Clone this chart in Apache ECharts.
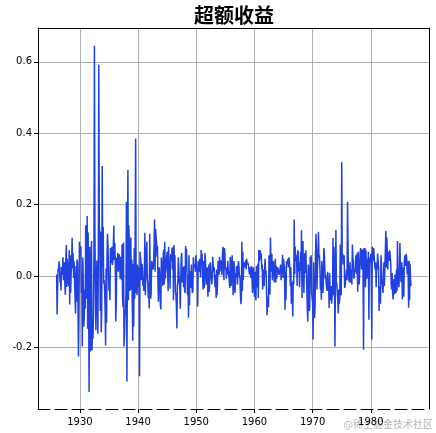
<!DOCTYPE html>
<html>
<head>
<meta charset="utf-8">
<script src="https://cdn.jsdelivr.net/npm/echarts@6/dist/echarts.min.js"></script>
<style>html,body{margin:0;padding:0;background:#fff}#c{width:436px;height:433px}</style>
</head>
<body>
<div id="c"></div>
<script>
const chartTitle = '超额收益';
const watermark = '@稀土掘金技术社区';
const startYear = 1926;
const xRange = [1922.8, 1990];
const yRange = [-0.373, 0.695];
const xTickYears = [1930, 1940, 1950, 1960, 1970, 1980];
const yTickValues = [-0.2, 0.0, 0.2, 0.4, 0.6];
// monthly excess returns, Jan 1926 .. Dec 1986 (one row per year)
const excessReturns = [
0.004,-0.108,-0.032,0.021,0.012,0.041,0.028,-0.018,0.006,-0.041,0.025,0.013,
0.003,0.052,-0.012,0.021,0.038,-0.024,-0.053,0.044,0.087,-0.031,0.048,0.019,
-0.015,-0.028,0.072,-0.08,0.058,-0.047,0.012,0.039,0.107,0.021,0.064,-0.006,
0.041,-0.012,-0.058,-0.105,0.028,-0.072,0.046,0.038,-0.064,-0.226,-0.128,0.096,
0.072,0.061,0.083,-0.048,-0.034,-0.198,0.052,-0.018,-0.142,-0.115,-0.038,-0.092,
0.142,0.118,-0.064,0.168,-0.148,0.122,-0.071,-0.325,0.082,-0.108,-0.212,0.054,
0.098,-0.208,-0.135,-0.176,-0.112,0.065,0.645,0.128,-0.046,-0.152,-0.078,0.043,
0.012,-0.162,0.034,0.592,0.142,0.118,-0.098,0.124,-0.158,-0.094,0.308,0.026,
0.138,-0.021,-0.012,-0.038,-0.094,-0.195,0.021,-0.131,0.062,0.118,0.084,0.012,
-0.042,-0.028,-0.068,0.078,0.036,0.064,0.082,0.031,0.042,0.087,0.141,0.045,
0.092,0.038,-0.128,-0.076,0.052,0.018,0.064,0.012,0.024,0.061,0.048,-0.008,
0.054,0.046,-0.012,0.089,-0.062,-0.088,0.094,-0.198,-0.168,-0.112,-0.094,-0.052,
0.208,-0.296,0.052,0.297,-0.068,0.142,0.084,-0.042,0.018,0.108,-0.038,0.046,
-0.068,-0.182,0.034,-0.142,0.078,-0.064,0.112,0.385,-0.048,-0.012,-0.054,0.032,
-0.032,0.018,0.024,-0.281,0.068,0.052,0.038,-0.012,0.034,0.021,-0.028,-0.018,
-0.042,0.012,0.121,-0.054,0.018,0.062,0.096,-0.008,-0.018,-0.062,-0.048,-0.091,
0.118,-0.028,-0.064,-0.048,0.042,0.038,0.046,0.018,0.034,0.082,0.158,0.012,
0.132,0.112,0.098,0.054,0.084,-0.018,-0.072,0.012,0.024,-0.012,-0.082,-0.094,
0.052,0.018,0.042,-0.028,0.061,0.074,-0.024,0.096,-0.008,0.012,0.024,0.058,
0.068,0.071,-0.042,0.082,0.024,0.038,-0.036,0.054,0.061,0.042,0.078,0.018,
0.081,-0.068,0.087,0.042,0.058,-0.044,-0.052,-0.082,-0.147,-0.028,-0.018,0.052,
0.024,-0.012,-0.034,-0.092,-0.018,0.052,0.064,-0.018,0.008,0.024,-0.032,0.028,
-0.042,-0.048,0.084,0.038,0.076,0.004,-0.054,0.002,-0.117,0.058,-0.082,0.014,
0.018,-0.034,0.032,-0.024,-0.048,-0.042,0.052,0.024,0.028,0.034,0.012,0.058,
0.038,0.018,0.008,-0.086,0.042,0.024,0.012,0.048,0.052,-0.004,0.073,0.054,
0.062,0.014,-0.038,0.042,-0.034,-0.026,0.064,0.044,0.002,-0.024,0.008,0.024,
-0.058,-0.028,0.032,-0.044,0.022,0.038,0.012,-0.008,-0.024,-0.004,0.054,0.028,
0.012,0.024,-0.018,-0.032,0.004,-0.062,0.018,-0.054,-0.008,0.042,0.018,0.002,
0.054,0.012,0.032,0.044,0.038,0.002,0.058,0.082,0.048,-0.012,0.078,0.064,
0.018,0.024,-0.008,0.022,0.004,0.042,0.018,0.002,-0.012,-0.034,0.054,0.014,
-0.028,0.034,0.058,0.004,-0.054,0.028,0.042,-0.032,-0.048,0.008,-0.004,0.028,
0.012,-0.024,0.018,0.042,0.028,-0.004,0.002,-0.048,-0.079,-0.064,0.096,-0.042,
0.068,-0.012,0.038,0.032,0.024,0.028,0.044,0.018,0.048,0.032,0.038,0.042,
0.028,0.012,0.004,0.024,0.008,-0.006,0.028,-0.012,-0.048,0.018,0.024,0.022,
-0.058,0.012,-0.024,-0.069,0.028,0.024,-0.032,0.034,-0.062,0.073,0.042,0.048,
0.072,0.054,0.062,0.018,0.032,-0.038,0.018,0.014,-0.028,0.024,0.048,0.004,
0.014,0.018,-0.11,-0.072,-0.058,-0.088,0.058,0.022,-0.052,0.108,0.048,0.012,
0.062,-0.012,0.028,0.042,0.024,-0.018,-0.004,0.048,-0.018,0.028,-0.008,0.012,
0.024,0.028,0.022,0.002,0.012,0.008,0.032,-0.012,0.028,0.014,0.059,-0.006,
0.048,0.032,0.024,-0.095,0.012,-0.068,0.042,0.038,0.034,0.048,0.024,0.052,
0.042,0.018,-0.028,0.024,-0.078,-0.018,-0.024,-0.114,-0.012,-0.024,0.158,0.004,
0.082,0.042,0.058,0.048,-0.028,0.064,0.072,0.012,0.038,-0.032,0.018,0.068,
0.014,0.128,-0.062,0.042,0.098,0.024,-0.048,0.038,0.064,0.008,0.072,0.018,
-0.032,-0.094,-0.128,0.032,0.018,-0.098,-0.088,0.054,-0.012,0.058,-0.048,-0.064,
-0.072,-0.178,0.038,-0.058,-0.118,-0.084,0.062,0.118,0.048,-0.038,0.024,0.068,
0.124,0.052,0.058,0.024,-0.038,-0.024,-0.067,0.042,-0.018,-0.048,-0.032,0.078,
0.068,0.028,-0.008,0.004,-0.024,-0.034,-0.042,0.012,-0.028,-0.018,-0.09,0.008,
-0.042,-0.068,-0.028,-0.078,-0.062,-0.048,0.106,-0.054,0.082,0.012,-0.198,-0.018,
0.129,-0.018,-0.024,-0.048,-0.072,-0.105,-0.038,-0.078,-0.062,0.088,-0.038,-0.054,
0.319,0.048,0.062,0.032,0.052,0.058,-0.034,-0.028,-0.024,0.004,0.018,-0.012,
0.208,0.082,0.008,-0.012,-0.018,0.038,0.004,-0.018,0.018,-0.024,0.088,0.052,
0.042,-0.008,-0.004,0.018,0.012,0.058,0.014,0.004,0.064,-0.044,0.068,0.018,
-0.024,0.012,0.064,0.078,0.058,0.018,0.068,0.074,0.008,-0.207,0.078,0.022,
0.078,-0.032,0.072,0.024,-0.008,0.048,0.018,0.068,-0.123,0.052,0.048,0.038,
0.062,-0.018,-0.178,0.082,0.068,0.042,0.078,0.052,0.032,0.018,0.038,-0.032,
0.032,0.018,0.062,0.042,0.024,-0.098,-0.028,-0.062,-0.078,0.058,0.032,-0.018,
-0.024,-0.048,-0.018,0.038,-0.028,-0.032,-0.024,0.126,0.024,0.108,0.068,0.018,
0.068,0.062,0.042,0.072,0.068,0.038,-0.024,-0.038,0.008,-0.048,-0.066,-0.018,
-0.008,-0.052,0.004,-0.018,-0.048,0.018,-0.042,0.098,0.004,-0.018,-0.032,0.012,
0.092,0.028,-0.012,-0.018,0.038,-0.066,0.024,-0.012,-0.058,0.038,0.058,0.056,
0.028,0.062,0.048,0.004,0.042,0.008,-0.089,0.042,-0.068,0.034,-0.012,-0.028
];

const seriesData = excessReturns.map((v, i) => [startYear + i / 12, v]);

const chart = echarts.init(document.getElementById('c'), null, {renderer: 'canvas'});
const labelFont = 'DejaVu Sans';
const gridColor = '#b0b0b0';
chart.setOption({
  animation: false,
  backgroundColor: '#fff',
  title: {
    text: chartTitle, left: 194, top: 5, padding: 0,
    textStyle: {fontFamily: 'Noto Sans CJK SC', fontWeight: 'bold', fontSize: 20, color: '#000'}
  },
  graphic: [{
    type: 'text', right: 3, bottom: 4,
    style: {text: watermark, fontSize: 10, fill: '#b4b4b4', fontFamily: 'Noto Sans CJK SC'}
  }],
  grid: {left: 38, right: 7, top: 28, bottom: 24, containLabel: false},
  xAxis: [{
    type: 'value', min: xRange[0], max: xRange[1], position: 'bottom',
    axisLine: {show: true, onZero: false, lineStyle: {color: '#000', width: 1, type: [12, 5]}},
    axisTick: {show: true, inside: false, length: 4, lineStyle: {color: '#000'}, customValues: xTickYears},
    axisLabel: {color: '#000', fontSize: 10, fontFamily: labelFont, margin: 8,
      customValues: xTickYears, formatter: v => String(Math.round(v))},
    splitLine: {show: true, lineStyle: {color: gridColor, width: 1}}
  }, {
    type: 'value', min: xRange[0], max: xRange[1], position: 'top',
    axisLine: {show: true, onZero: false, lineStyle: {color: '#000', width: 1}},
    axisTick: {show: false}, axisLabel: {show: false}, splitLine: {show: false}
  }],
  yAxis: [{
    type: 'value', min: yRange[0], max: yRange[1], position: 'left',
    axisLine: {show: true, onZero: false, lineStyle: {color: '#000', width: 1}},
    axisTick: {show: true, inside: false, length: 4, lineStyle: {color: '#000'}, customValues: yTickValues},
    axisLabel: {color: '#000', fontSize: 10, fontFamily: labelFont, margin: 6,
      customValues: yTickValues, formatter: v => (Math.abs(v) < 1e-9 ? 0 : v).toFixed(1)},
    splitLine: {show: true, lineStyle: {color: gridColor, width: 1}}
  }, {
    type: 'value', min: yRange[0], max: yRange[1], position: 'right',
    axisLine: {show: true, onZero: false, lineStyle: {color: '#000', width: 1}},
    axisTick: {show: false}, axisLabel: {show: false}, splitLine: {show: false}
  }],
  series: [{
    type: 'line', data: seriesData, showSymbol: false, symbol: 'none',
    xAxisIndex: 0, yAxisIndex: 0,
    lineStyle: {color: '#2242e0', width: 1.5}, sampling: null
  }]
});
</script>
</body>
</html>
